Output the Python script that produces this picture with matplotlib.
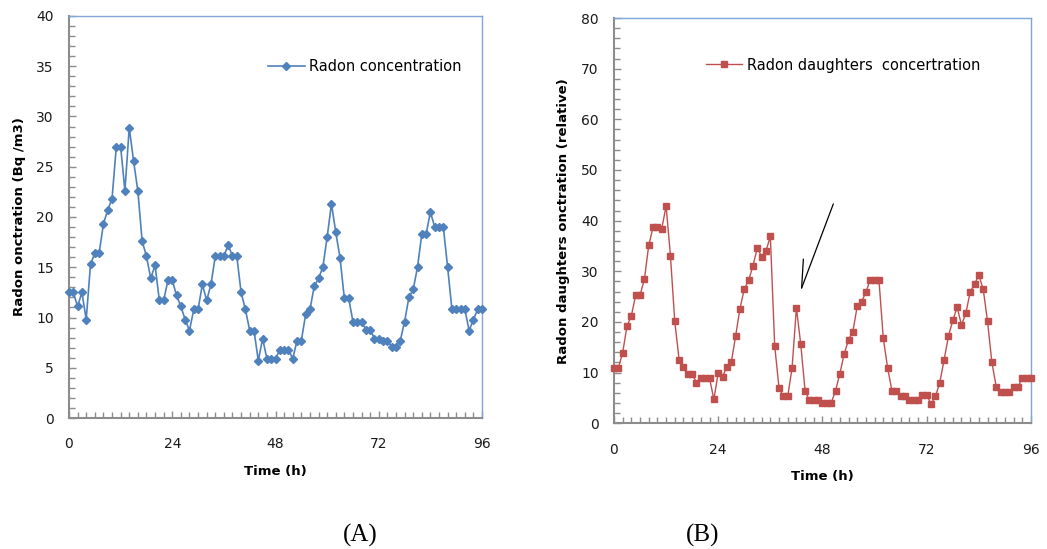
import numpy as np
import matplotlib
matplotlib.use('Agg')
import matplotlib.pyplot as plt
from matplotlib.ticker import MultipleLocator

hours = np.arange(0, 97)

# radon concentration (Bq/m3), hourly readings
radon = [12.5, 12.5, 11.1, 12.5, 9.8, 15.3, 16.4, 16.4, 19.3, 20.7,
         21.8, 27.0, 27.0, 22.6, 28.9, 25.6, 22.6, 17.6, 16.1, 13.9,
         15.2, 11.7, 11.7, 13.7, 13.7, 12.2, 11.1, 9.8, 8.7, 10.8,
         10.8, 13.3, 11.7, 13.3, 16.1, 16.1, 16.1, 17.2, 16.1, 16.1,
         12.5, 10.8, 8.7, 8.7, 5.7, 7.9, 5.9, 5.9, 5.9, 6.8,
         6.8, 6.8, 5.9, 7.7, 7.7, 10.3, 10.8, 13.1, 13.9, 15.0,
         18.0, 21.3, 18.5, 15.9, 11.9, 11.9, 9.6, 9.6, 9.6, 8.8,
         8.8, 7.9, 7.9, 7.7, 7.7, 7.1, 7.1, 7.7, 9.6, 12.0,
         12.8, 15.0, 18.3, 18.3, 20.5, 19.0, 19.0, 19.0, 15.0, 10.8,
         10.8, 10.8, 10.8, 8.7, 9.8, 10.8, 10.8]

# radon daughters concentration (relative)
daughters = [10.9, 10.9, 13.9, 19.2, 21.2, 25.3, 25.3, 28.4, 35.1, 38.7,
             38.7, 38.4, 42.9, 33.1, 20.1, 12.5, 11.1, 9.7, 9.7, 8.0,
             8.9, 8.9, 8.9, 4.7, 10.0, 9.2, 11.2, 12.0, 17.2, 22.6,
             26.5, 28.2, 31.1, 34.6, 32.9, 34.0, 36.9, 15.3, 7.0, 5.3,
             5.3, 10.9, 22.8, 15.6, 6.4, 4.5, 4.5, 4.5, 4.0, 4.0,
             4.0, 6.4, 9.8, 13.7, 16.5, 18.1, 23.1, 24.0, 25.9, 28.3,
             28.3, 28.3, 16.8, 10.9, 6.4, 6.4, 5.3, 5.3, 4.5, 4.5,
             4.5, 5.6, 5.6, 3.8, 5.3, 8.0, 12.5, 17.2, 20.3, 22.9,
             19.4, 21.7, 25.9, 27.5, 29.2, 26.5, 20.1, 12.0, 7.2, 6.1,
             6.1, 6.1, 7.2, 7.2, 8.9, 8.9, 8.9]

x_ticks = [0, 24, 48, 72, 96]

# arrow pointing at the small peak near 43 h
arrow_tip = (43.2, 26.7)
arrow_tail = (50.5, 43.3)
arrow_barb = (43.6, 32.4)

blue = '#4F81BD'
red = '#C0504D'
axis_grey = '#8C8C8C'
frame_blue = '#7FA6D6'


def style_axes(ax, ymax, ymajor, yminor):
    ax.set_xlim(0, 96)
    ax.set_ylim(0, ymax)
    ax.set_xticks(x_ticks)
    ax.xaxis.set_minor_locator(MultipleLocator(2))
    ax.yaxis.set_major_locator(MultipleLocator(ymajor))
    ax.yaxis.set_minor_locator(MultipleLocator(yminor))
    for s in ['left', 'bottom']:
        ax.spines[s].set_color(axis_grey)
        ax.spines[s].set_linewidth(1.5)
    for s in ['top', 'right']:
        ax.spines[s].set_color(frame_blue)
        ax.spines[s].set_linewidth(1.0)
    ax.tick_params(axis='both', which='both', direction='in', color=axis_grey,
                   top=False, right=False, labelsize=10, labelcolor='#1a1a1a')
    ax.tick_params(axis='both', which='major', length=5, width=1)
    ax.tick_params(axis='both', which='minor', length=4, width=1)
    ax.tick_params(axis='x', which='major', pad=14)
    ax.tick_params(axis='y', which='major', pad=11)


fig = plt.figure(figsize=(10.47, 5.49), dpi=100)

# (A) radon
ax1 = fig.add_axes([0.0659, 0.2386, 0.3945, 0.7323])
ax1.plot(hours, radon, color=blue, lw=1.2, marker='D', ms=4.3,
         label='Radon concentration', clip_on=False, zorder=3)
style_axes(ax1, 40, 5, 1)
ax1.set_xlabel('Time (h)', fontsize=9.5, fontweight='bold', va='center')
ax1.xaxis.set_label_coords(0.5, -0.132)
ax1.set_ylabel('Radon onctration (Bq /m3)', fontsize=9.5, fontweight='bold', va='center')
ax1.yaxis.set_label_coords(-0.121, 0.5)
ax1.legend(loc='center left', bbox_to_anchor=(0.482, 0.874), frameon=False,
           fontsize=10.5, borderpad=0, borderaxespad=0, handlelength=2.5,
           handletextpad=0.3)

# (B) radon daughters
ax2 = fig.add_axes([0.5864, 0.2290, 0.3983, 0.7382])
ax2.plot(hours, daughters, color=red, lw=1.0, marker='s', ms=4.8,
         label='Radon daughters  concertration', clip_on=False, zorder=3)
style_axes(ax2, 80, 10, 2)
ax2.set_xlabel('Time (h)', fontsize=9.5, fontweight='bold', va='center')
ax2.xaxis.set_label_coords(0.5, -0.132)
ax2.set_ylabel('Radon daughters onctration (relative)', fontsize=9.5,
               fontweight='bold', va='center')
ax2.yaxis.set_label_coords(-0.122, 0.5)
ax2.legend(loc='center left', bbox_to_anchor=(0.22, 0.884), frameon=False,
           fontsize=10.5, borderpad=0, borderaxespad=0, handlelength=2.5,
           handletextpad=0.3)
ax2.annotate('', xy=arrow_tip, xytext=arrow_tail,
             arrowprops=dict(arrowstyle='-', color='black', lw=0.9,
                             shrinkA=0, shrinkB=0))
ax2.annotate('', xy=arrow_tip, xytext=arrow_barb,
             arrowprops=dict(arrowstyle='-', color='black', lw=0.9,
                             shrinkA=0, shrinkB=0))

fig.text(360 / 1047, 1 - 535 / 549, '(A)', fontsize=18, family='Liberation Serif',
         ha='center', va='center')
fig.text(703 / 1047, 1 - 535 / 549, '(B)', fontsize=18, family='Liberation Serif',
         ha='center', va='center')

fig.savefig('out.png', dpi=100)
